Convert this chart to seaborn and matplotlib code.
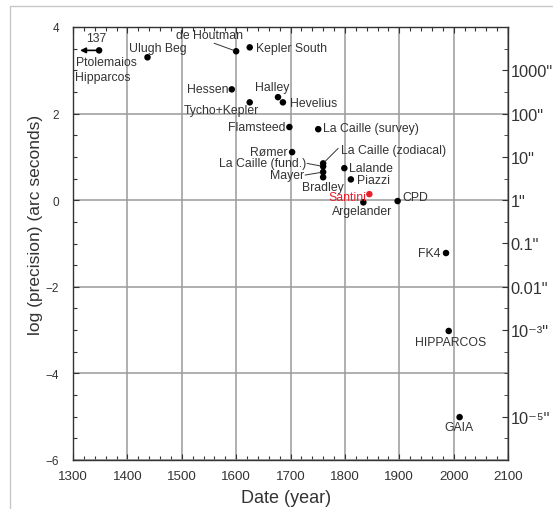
import matplotlib
matplotlib.use("Agg")
import matplotlib.pyplot as plt
import seaborn as sns
import pandas as pd
from matplotlib.patches import Rectangle
from matplotlib.ticker import MultipleLocator

# ---------------- data ----------------
names = ["Ptolemaios", "Ulugh Beg", "de Houtman", "Kepler South", "Hessen",
         "Tycho+Kepler", "Halley", "Hevelius", "Flamsteed", "La Caille (survey)",
         "Rømer", "La Caille (zodiacal)", "La Caille (fund.)", "Mayer", "Bradley",
         "Lalande", "Piazzi", "Santini", "Argelander", "CPD", "FK4",
         "HIPPARCOS", "GAIA"]
years = [1348, 1437, 1600, 1625, 1592, 1625, 1677, 1686, 1698, 1751,
         1703, 1760, 1760, 1760, 1760, 1799, 1811, 1845, 1834, 1897,
         1986, 1991, 2011]
log_precision = [3.46, 3.30, 3.44, 3.53, 2.56, 2.26, 2.38, 2.26, 1.69, 1.64,
                 1.11, 0.85, 0.78, 0.65, 0.53, 0.74, 0.48, 0.14, -0.05, -0.02,
                 -1.22, -3.02, -5.01]
highlight = ["Santini"]
right_ticks = [3, 2, 1, 0, -1, -2, -3, -5]
right_labels = ['1000"', '100"', '10"', '1"', '0.1"', '0.01"',
                '10\u207b\u00b3"', '10\u207b\u2075"']
x_ticks = [1300, 1400, 1500, 1600, 1700, 1800, 1900, 2000, 2100]
y_ticks = [4, 2, 0, -2, -4, -6]

df = pd.DataFrame({"name": names, "year": years, "logp": log_precision})
df["kind"] = ["hl" if n in highlight else "n" for n in names]

# ---------------- style ----------------
sns.set_style("ticks")
plt.rcParams["font.family"] = ["Liberation Sans", "DejaVu Sans"]
TXT = "#333333"

fig = plt.figure(figsize=(5.53, 5.10), dpi=100)
ax = fig.add_axes([73 / 553, 1 - 461 / 510, 435 / 553, 433 / 510])

# figure border (light gray)
fig.patches.append(Rectangle((10 / 553, -0.1), 2, 1 - 7 / 510 + 0.1,
                             transform=fig.transFigure, fill=False,
                             edgecolor="#c8c8c8", lw=1.0))

sns.scatterplot(data=df, x="year", y="logp", hue="kind",
                palette={"n": "black", "hl": "#e8202a"}, s=22,
                edgecolor="none", legend=False, ax=ax, zorder=3)

ax.set_xlim(1300, 2100)
ax.set_ylim(-6, 4)
ax.set_xticks(x_ticks)
ax.set_yticks(y_ticks)
ax.xaxis.set_minor_locator(MultipleLocator(20))
ax.yaxis.set_minor_locator(MultipleLocator(0.5))
ax.grid(True, which="major", color="#9a9a9a", lw=1.1)
ax.set_axisbelow(True)
ax.tick_params(which="both", direction="in", top=True, right=False,
               colors="#333333", labelcolor=TXT)
ax.tick_params(which="major", length=4, width=0.8)
ax.tick_params(which="minor", length=3, width=0.8)
ax.tick_params(axis="x", labelsize=9.6, pad=7)
ax.tick_params(axis="y", labelsize=8.5, pad=10)
for sp in ax.spines.values():
    sp.set_color("#333333")
    sp.set_linewidth(1.0)

ax.set_xlabel("Date (year)", fontsize=13, color=TXT)
ax.set_ylabel("log (precision) (arc seconds)", fontsize=12.5, color=TXT)
ax.xaxis.set_label_coords(0.49, -0.068)
ax.yaxis.set_label_coords(-0.069, 0.545)

# right axis with arcsecond labels
ax2 = ax.twinx()
ax2.set_ylim(ax.get_ylim())
ax2.set_yticks(right_ticks)
ax2.set_yticklabels(right_labels)
ax2.yaxis.set_minor_locator(MultipleLocator(0.5))
ax2.tick_params(which="both", direction="in", labelsize=11.8, pad=2,
                colors="#333333", labelcolor=TXT)
ax2.tick_params(which="major", length=4)
ax2.tick_params(which="minor", length=3)
for sp in ax2.spines.values():
    sp.set_visible(False)

# ---------------- labels ----------------
# (offset in pixels from the point, horizontal alignment)
label_pos = {
    "Ptolemaios": (-23, -12, "left"),
    "Ulugh Beg": (-18, 9, "left"),
    "de Houtman": (-60, 16, "left"),
    "Kepler South": (6, -1, "left"),
    "Hessen": (-3, 0, "right"),
    "Tycho+Kepler": (-66, -8, "left"),
    "Halley": (-23, 10, "left"),
    "Hevelius": (7, -1, "left"),
    "Flamsteed": (-4, 0, "right"),
    "La Caille (survey)": (5, 1, "left"),
    "Rømer": (-5, 0, "right"),
    "La Caille (zodiacal)": (18, 13, "left"),
    "La Caille (fund.)": (-17, 3, "right"),
    "Mayer": (-19, -3, "right"),
    "Bradley": (-21, -10, "left"),
    "Lalande": (5, 0, "left"),
    "Piazzi": (6, -1, "left"),
    "Santini": (-3, -3, "right"),
    "Argelander": (-31, -9, "left"),
    "CPD": (5, 4, "left"),
    "FK4": (-6, 0, "right"),
    "HIPPARCOS": (-34, -11, "left"),
    "GAIA": (-15, -10, "left"),
}
leader = {"de Houtman": (-22, 8), "La Caille (zodiacal)": (15, 15),
          "La Caille (fund.)": (-16, 3), "Mayer": (-18, -3)}

for n, x, y in zip(names, years, log_precision):
    dx, dy, ha = label_pos[n]
    col = "#e8202a" if n in highlight else TXT
    ax.annotate(n, (x, y), xytext=(dx, dy), textcoords="offset pixels",
                ha=ha, va="center", fontsize=8.8, color=col, zorder=4)
    if n in leader:
        lx, ly = leader[n]
        ax.annotate("", (x, y), xytext=(lx, ly), textcoords="offset pixels",
                    arrowprops=dict(arrowstyle="-", color="#333333", lw=0.7,
                                    shrinkA=0, shrinkB=2))

# 137 AD arrow for Ptolemaios / Hipparcos
i0 = names.index("Ptolemaios")
ax.annotate("", (1313, log_precision[i0]), xytext=(years[i0], log_precision[i0]),
            arrowprops=dict(arrowstyle="-|>", color="black", lw=1.2,
                            mutation_scale=8, shrinkA=0, shrinkB=0))
ax.annotate("137", (1313, log_precision[i0]), xytext=(6, 12),
            textcoords="offset pixels", ha="left", va="center",
            fontsize=8.8, color=TXT)
ax.annotate("Hipparcos", (1313, log_precision[i0]), xytext=(-5, -27),
            textcoords="offset pixels", ha="left", va="center",
            fontsize=8.8, color=TXT)

fig.savefig("out.png", dpi=100)
